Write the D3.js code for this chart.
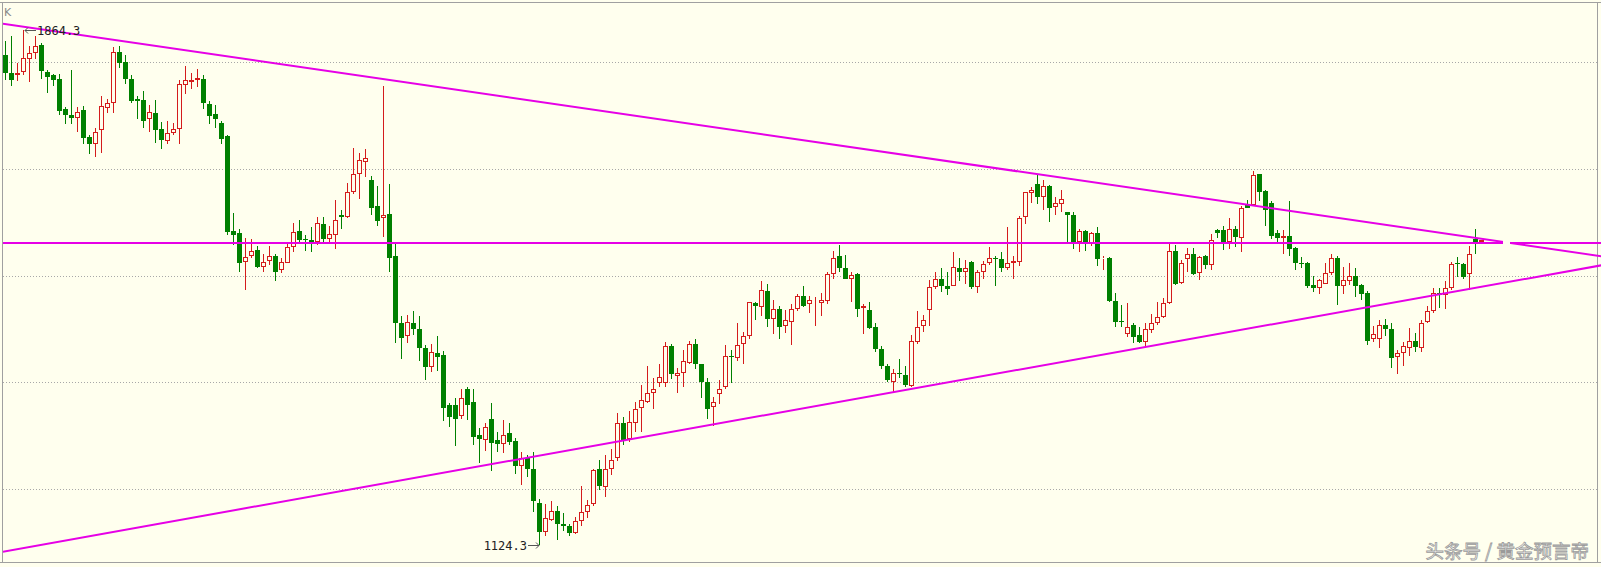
<!DOCTYPE html>
<html><head><meta charset="utf-8">
<script src="https://cdn.jsdelivr.net/npm/d3@7"></script>
<style>html,body{margin:0;padding:0;background:#FFFFEE;}svg{display:block}</style>
</head><body><svg id="c" width="1601" height="567"></svg>
<script>
const opens=[1828,1803,1799,1804,1823,1831,1843,1804,1800,1794,1751,1742,1738,1749,1711,1701,1720,1752,1759,1832,1819,1794,1765,1763,1736,1745,1722,1705,1716,1722,
1785,1789,1792,1794,1758,1744,1730,1712,1576,1572,1531,1539,1548,1524,1533,1540,1519,1530,1552,1576,1564,1563,1559,1586,1564,1570,1599,1596,1631,1658,
1675,1649,1611,1594,1600,1540,1443,1425,1444,1435,1407,1380,1400,1397,1325,1325,1309,1349,1330,1282,1275,1305,1275,1270,1285,1274,1238,1250,1234,1184,
1143,1160,1173,1155,1152,1142,1159,1171,1183,1233,1208,1233,1249,1299,1276,1300,1321,1330,1342,1357,1357,1410,1367,1372,1386,1413,1384,1359,1322,1341,
1351,1396,1393,1413,1425,1472,1466,1489,1449,1463,1439,1445,1463,1482,1471,1470,1472,1475,1513,1540,1523,1507,1513,1465,1462,1437,1406,1382,1358,1372,
1369,1353,1416,1439,1462,1495,1507,1496,1497,1523,1516,1531,1495,1517,1529,1536,1535,1523,1529,1531,1595,1630,1643,1625,1640,1610,1614,1603,1599,1560,
1575,1558,1572,1535,1536,1475,1446,1428,1440,1426,1416,1433,1444,1452,1472,1547,1501,1535,1543,1515,1539,1527,1577,1577,1560,1578,1566,1614,1613,1657,
1633,1616,1573,1566,1568,1551,1529,1530,1498,1493,1500,1515,1536,1496,1503,1511,1498,1487,1420,1420,1440,1434,1395,1400,1408,1417,1408,1445,1460,1487,
1484,1493,1530,1528,1514,1564,1559];
const highs=[1848,1856,1817,1864.3,1841,1855,1845,1807,1801,1801,1754,1807,1753,1755,1713,1723,1770,1765,1840,1842,1828,1800,1769,1777,1756,1763,1732,1734,1730,1792,
1813,1802,1808,1800,1762,1756,1734,1713,1602,1578,1566,1564,1554,1543,1554,1543,1536,1560,1587,1591,1570,1581,1596,1595,1583,1620,1606,1645,1695,1688,
1694,1655,1640,1784,1643,1559,1453,1455,1461,1453,1411,1413,1424,1403,1328,1335,1349,1352,1348,1292,1299,1328,1287,1304,1300,1278,1258,1254,1258,1191,
1183,1188,1180,1170,1155,1165,1209,1189,1234,1247,1254,1262,1314,1308,1317,1330,1354,1381,1364,1384,1416,1413,1378,1404,1418,1420,1385,1364,1337,1361,
1412,1404,1443,1431,1474,1474,1503,1500,1476,1468,1462,1471,1485,1496,1482,1481,1487,1517,1547,1556,1541,1517,1515,1470,1473,1444,1410,1385,1377,1391,
1382,1426,1461,1455,1505,1516,1522,1517,1545,1536,1534,1532,1519,1532,1553,1539,1545,1581,1540,1597,1632,1639,1656,1649,1642,1625,1635,1603,1603,1578,
1577,1574,1581,1540,1538,1486,1469,1472,1443,1437,1443,1456,1473,1479,1557,1555,1534,1551,1551,1540,1541,1571,1578,1582,1594,1583,1611,1620,1661,1658,
1634,1619,1577,1577,1618,1553,1538,1531,1511,1507,1530,1542,1539,1524,1529,1522,1500,1489,1439,1447,1449,1444,1404,1416,1436,1429,1447,1467,1493,1493,
1504,1531,1538,1530,1554,1578,1563];
const lows=[1792,1784,1791,1800,1790,1822,1794,1774,1784,1742,1729,1729,1718,1701,1686,1682,1687,1745,1745,1810,1786,1759,1737,1723,1718,1702,1693,1701,1713,1700,
1772,1779,1783,1751,1729,1723,1700,1570,1555,1517,1490,1536,1523,1517,1526,1503,1515,1529,1546,1559,1547,1545,1556,1558,1560,1549,1579,1594,1629,1622,
1653,1598,1583,1567,1517,1415,1391,1415,1426,1389,1362,1373,1375,1302,1294,1266,1305,1304,1268,1242,1260,1230,1258,1257,1268,1226,1211,1222,1172,1124.3,
1137,1159,1132,1145,1137,1140,1151,1163,1180,1204,1193,1225,1245,1268,1273,1287,1287,1328,1319,1352,1352,1363,1343,1352,1384,1377,1335,1306,1295,1327,
1349,1357,1389,1384,1421,1447,1454,1438,1427,1420,1429,1412,1460,1466,1457,1439,1454,1471,1507,1516,1506,1473,1452,1428,1434,1402,1377,1359,1342,1364,
1351,1352,1413,1431,1439,1492,1488,1484,1496,1503,1500,1492,1486,1507,1527,1496,1516,1519,1507,1525,1586,1615,1614,1605,1589,1598,1603,1560,1550,1545,
1547,1554,1525,1519,1473,1438,1438,1423,1414,1414,1409,1429,1440,1450,1470,1498,1500,1516,1512,1505,1521,1519,1565,1548,1549,1553,1546,1608,1611,1618,
1583,1564,1560,1543,1539,1519,1522,1493,1488,1485,1499,1512,1469,1485,1498,1480,1477,1412,1416,1408,1425,1378,1370,1381,1396,1402,1401,1444,1457,1465,
1464,1491,1510,1506,1491,1543,1558];
const closes=[1802,1792,1802,1824,1831,1842,1806,1797,1792,1748,1742,1738,1747,1709,1700,1718,1755,1760,1832,1817,1794,1762,1762,1733,1746,1720,1706,1716,1722,1786,
1792,1792,1795,1760,1741,1736,1708,1574,1570,1530,1538,1547,1524,1531,1540,1517,1531,1552,1574,1562,1563,1559,1587,1564,1571,1592,1596,1632,1658,1677,
1681,1609,1590,1598,1537,1443,1422,1445,1434,1407,1380,1401,1395,1321,1308,1306,1336,1326,1280,1276,1294,1271,1270,1282,1273,1238,1249,1234,1187,1143,
1163,1173,1154,1152,1142,1159,1171,1182,1232,1209,1233,1247,1299,1274,1301,1319,1332,1342,1349,1365,1410,1370,1372,1389,1413,1384,1359,1320,1330,1349,
1396,1394,1412,1425,1473,1467,1491,1449,1464,1438,1447,1464,1482,1468,1476,1471,1476,1513,1536,1522,1507,1512,1464,1467,1436,1406,1382,1361,1371,1370,
1354,1418,1438,1447,1495,1507,1496,1492,1524,1516,1522,1495,1516,1528,1536,1535,1523,1530,1532,1594,1631,1635,1624,1640,1609,1615,1622,1598,1560,1576,
1559,1572,1535,1537,1475,1445,1445,1438,1423,1416,1434,1443,1452,1472,1547,1499,1529,1543,1514,1538,1527,1563,1573,1559,1578,1567,1608,1609,1656,1632,
1605,1568,1566,1569,1550,1529,1528,1496,1493,1505,1515,1536,1496,1505,1511,1497,1485,1418,1428,1440,1434,1393,1400,1410,1418,1409,1444,1461,1487,1484,
1493,1528,1528,1509,1543,1559,1562];
const gridPrices=[1818.3,1664.8,1511.3,1357.8,1204.3];
const levelPrice=1558.7;
const upperTrend=[[-0.5,1873.4],[266,1539.2]];
const lowerTrend=[[-0.5,1114.6],[266,1526.2]];
const highLabel="1864.3", highIndex=3, highValue=1864.3;
const lowLabel="1124.3", lowIndex=89, lowValue=1124.3;
const cornerLabel="K";
const watermark="头条号 / 黄金预言帝";

const W=1601,H=567;
const BG="#FFFFEE", RED="#D41C1C", GREEN="#008000", MAG="#E600E6", GRID="#A8A8A8", BORDER="#A0A0A0";
const svg=d3.select("#c");
svg.append("rect").attr("width",W).attr("height",H).attr("fill",BG);

const x=d3.scaleLinear().domain([0,246]).range([5.5,1481.5]);
const y=d3.scaleLinear().domain([1124.3,1864.3]).range([545,30]);

svg.append("defs").append("clipPath").attr("id","plot").append("rect").attr("x",3).attr("y",3).attr("width",W-3).attr("height",559);

// grid
svg.append("g").selectAll("line").data(gridPrices).join("line")
  .attr("x1",3).attr("x2",1597).attr("y1",d=>Math.round(y(d))+0.5).attr("y2",d=>Math.round(y(d))+0.5)
  .attr("stroke",GRID).attr("stroke-width",1).attr("stroke-dasharray","1,2");

// borders
const b=svg.append("g").attr("stroke",BORDER).attr("stroke-width",1);
b.append("line").attr("x1",0).attr("x2",W).attr("y1",2.5).attr("y2",2.5);
b.append("line").attr("x1",2.5).attr("x2",2.5).attr("y1",2).attr("y2",563);
b.append("line").attr("x1",0).attr("x2",W).attr("y1",562.5).attr("y2",562.5);
b.append("line").attr("x1",1597.5).attr("x2",1597.5).attr("y1",2).attr("y2",563);

// candles
const data=opens.map((o,i)=>({i,o,h:highs[i],l:lows[i],c:closes[i]}));
const g=svg.append("g");
data.forEach(d=>{
  const cx=Math.round(x(d.i)-0.5)+0.5;
  const up=d.c>d.o;
  const top=Math.round(y(Math.max(d.o,d.c))), bot=Math.round(y(Math.min(d.o,d.c)));
  const yh=Math.round(y(d.h)), yl=Math.round(y(d.l));
  if(up){
    g.append("line").attr("x1",cx).attr("x2",cx).attr("y1",yh).attr("y2",top).attr("stroke",RED);
    g.append("line").attr("x1",cx).attr("x2",cx).attr("y1",bot).attr("y2",yl).attr("stroke",RED);
    g.append("rect").attr("x",cx-2).attr("y",top+0.5).attr("width",4).attr("height",Math.max(bot-top-1,0))
      .attr("fill",BG).attr("stroke",RED).attr("stroke-width",1);
  } else {
    g.append("line").attr("x1",cx).attr("x2",cx).attr("y1",yh).attr("y2",yl).attr("stroke",GREEN);
    g.append("rect").attr("x",cx-2.5).attr("y",top).attr("width",5).attr("height",Math.max(bot-top,1)).attr("fill",GREEN);
  }
});

// magenta lines
const m=svg.append("g").attr("clip-path","url(#plot)").attr("stroke",MAG).attr("stroke-width",2).attr("fill","none");
const ly=Math.round(y(levelPrice));
m.append("line").attr("x1",3).attr("x2",W).attr("y1",ly).attr("y2",ly);
const line=d3.line().x(p=>x(p[0])).y(p=>y(p[1]));
m.append("path").attr("d",line(upperTrend));
m.append("path").attr("d",line(lowerTrend));
// small break in the lines near the apex
svg.append("rect").attr("x",1503).attr("y",ly-4).attr("width",7).attr("height",8).attr("fill",BG);

// labels
const hx=Math.round(x(highIndex)), hy=Math.round(y(highValue));
const ar=svg.append("g").attr("stroke","#555").attr("stroke-width",1).attr("fill","none");
ar.append("line").attr("x1",hx+1).attr("x2",hx+12).attr("y1",hy+0.5).attr("y2",hy+0.5);
ar.append("polyline").attr("points",`${hx+4},${hy-2.5} ${hx+1},${hy+0.5} ${hx+4},${hy+3.5}`);
svg.append("text").attr("x",hx+13).attr("y",hy+5).attr("font-family","DejaVu Sans Mono").attr("font-size",12)
  .attr("fill","#222").text(highLabel);
const lx=Math.round(x(lowIndex)), lyy=Math.round(y(lowValue));
ar.append("line").attr("x1",lx-12).attr("x2",lx-1).attr("y1",lyy+0.5).attr("y2",lyy+0.5);
ar.append("polyline").attr("points",`${lx-4},${lyy-2.5} ${lx-1},${lyy+0.5} ${lx-4},${lyy+3.5}`);
svg.append("text").attr("x",lx-13).attr("y",lyy+5).attr("text-anchor","end").attr("font-family","DejaVu Sans Mono").attr("font-size",12)
  .attr("fill","#222").text(lowLabel);
svg.append("text").attr("x",4).attr("y",16).attr("font-family","DejaVu Sans").attr("font-size",11).attr("fill","#888").text(cornerLabel);

// watermark
svg.append("text").attr("x",1589).attr("y",558).attr("text-anchor","end").attr("font-family","Noto Sans CJK SC")
  .attr("font-size",18.5).attr("fill","#fff").attr("stroke","#9a9a9a").attr("stroke-width",0.8).text(watermark);
</script></body></html>
